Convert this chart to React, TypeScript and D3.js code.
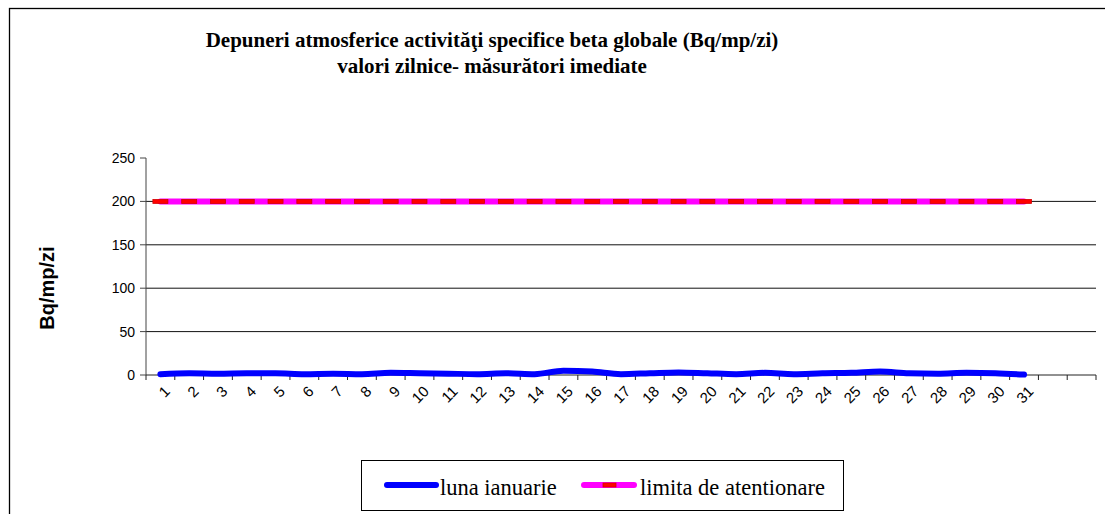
import * as d3 from "d3";

const days = [
  "1", "2", "3", "4", "5", "6", "7", "8", "9", "10", "11", "12", "13", "14", "15", "16",
  "17", "18", "19", "20", "21", "22", "23", "24", "25", "26", "27", "28", "29", "30", "31",
];
// two empty slots at the end of the category axis
const emptySlots = ["_32", "_33"];

const januaryValues = [
  1, 2, 1.5, 2, 2, 1, 1.5, 1, 2.5, 2, 1.5, 1, 2, 1, 5, 4,
  1, 2, 3, 2, 1, 2.5, 1, 2, 2.5, 4, 2, 1.5, 2.5, 2, 0.5,
];

const limitValues = [
  200, 200, 200, 200, 200, 200, 200, 200, 200, 200, 200, 200, 200, 200, 200, 200,
  200, 200, 200, 200, 200, 200, 200, 200, 200, 200, 200, 200, 200, 200, 200,
];

const yTicks = [0, 50, 100, 150, 200, 250];
const gridTicks = [50, 100, 150, 200];

const titleLines = [
  "Depuneri atmosferice activităţi specifice beta globale (Bq/mp/zi)",
  "valori zilnice- măsurători imediate",
];

const W = 1105;
const H = 514;
const plot = { left: 146, right: 1096, top: 158, bottom: 375 };

const serif = "'Liberation Serif', 'Times New Roman', serif";
const sans = "'Liberation Sans', Arial, sans-serif";

export default function App() {
  const x = d3
    .scaleBand<string>()
    .domain([...days, ...emptySlots])
    .range([plot.left, plot.right]);
  const y = d3.scaleLinear().domain([0, 250]).range([plot.bottom, plot.top]);
  const cx = (d: string) => (x(d) ?? 0) + x.bandwidth() / 2;

  const line = d3
    .line<number>()
    .x((_, i) => cx(days[i]))
    .y((v) => y(v))
    .curve(d3.curveMonotoneX);

  const boundaries = [...x.domain().map((d) => x(d) ?? 0), plot.right];

  return (
    <svg
      width={W}
      height={H}
      style={{ position: "absolute", left: 0, top: 0, background: "#fff" }}
    >
      {/* outer chart frame (right/bottom cut off) */}
      <rect x={9.5} y={8.5} width={W + 20} height={H + 20} fill="#fff" stroke="#000" strokeWidth={1.3} />

      {titleLines.map((t, i) => (
        <text
          key={i}
          x={492}
          y={47 + i * 26}
          textAnchor="middle"
          fontFamily={serif}
          fontWeight="bold"
          fontSize={21}
        >
          {t}
        </text>
      ))}

      {/* gridlines */}
      {gridTicks.map((t) => (
        <line key={t} x1={plot.left} x2={plot.right} y1={y(t)} y2={y(t)} stroke="#111" strokeWidth={1} />
      ))}

      {/* y axis */}
      <line x1={plot.left} x2={plot.left} y1={plot.top} y2={plot.bottom} stroke="#444" strokeWidth={1} />
      {yTicks.map((t) => (
        <g key={t}>
          <line x1={plot.left - 6} x2={plot.left} y1={y(t)} y2={y(t)} stroke="#444" />
          <text x={135} y={y(t)} dy="0.36em" textAnchor="end" fontFamily={sans} fontSize={14}>
            {t}
          </text>
        </g>
      ))}
      <text
        transform={`translate(54,288) rotate(-90)`}
        textAnchor="middle"
        fontFamily={sans}
        fontWeight="bold"
        fontSize={20}
      >
        Bq/mp/zi
      </text>

      {/* x axis */}
      <line x1={plot.left} x2={plot.right} y1={plot.bottom} y2={plot.bottom} stroke="#222" />
      {boundaries.map((b, i) => (
        <line key={i} x1={b} x2={b} y1={plot.bottom} y2={plot.bottom + 5} stroke="#222" />
      ))}
      {days.map((d) => (
        <text
          key={d}
          transform={`translate(${cx(d) + 3},${plot.bottom + 10}) rotate(-45)`}
          textAnchor="end"
          dy="0.7em"
          fontFamily={sans}
          fontSize={15}
        >
          {d}
        </text>
      ))}

      {/* limit series */}
      <path
        d={line(limitValues) ?? ""}
        fill="none"
        stroke="#ff00ff"
        strokeWidth={6}
        strokeLinecap="round"
      />
      {limitValues.map((v, i) => (
        <rect
          key={i}
          x={cx(days[i]) - 7.5}
          y={y(v) - 2}
          width={15}
          height={4}
          fill="#ff0000"
          stroke="#d40000"
          strokeWidth={0.8}
        />
      ))}

      {/* january series */}
      <path
        d={line(januaryValues) ?? ""}
        fill="none"
        stroke="#0000ff"
        strokeWidth={6}
        strokeLinecap="round"
        strokeLinejoin="round"
      />

      {/* legend */}
      <rect x={361.5} y={460.5} width={482} height={50} fill="#fff" stroke="#000" strokeWidth={1} />
      <line x1={387} x2={436} y1={485} y2={485} stroke="#0000ff" strokeWidth={6} strokeLinecap="round" />
      <text x={440} y={495} fontFamily={serif} fontSize={22.5}>
        luna ianuarie
      </text>
      <line x1={584} x2={634} y1={485} y2={485} stroke="#ff00ff" strokeWidth={6} strokeLinecap="round" />
      <rect x={603} y={483} width={13} height={4} fill="#ff0000" stroke="#d40000" strokeWidth={0.8} />
      <text x={640} y={495} fontFamily={serif} fontSize={22.5}>
        limita de atentionare
      </text>
    </svg>
  );
}
